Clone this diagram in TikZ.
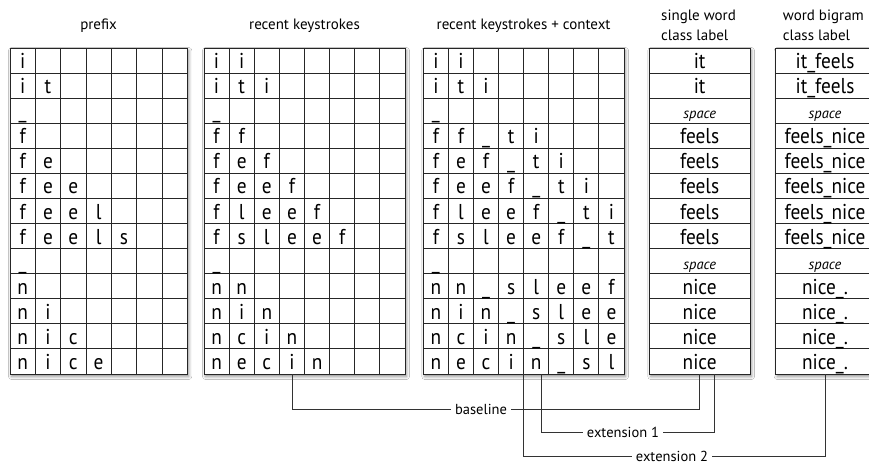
\documentclass[tikz,border=0pt]{standalone}
\usepackage{fontspec}
\setmainfont{PT Sans}
\newfontfamily\cellfont[FakeStretch=0.9]{PT Sans}
\usetikzlibrary{shadows.blur}

\def\ytop{48}
\def\rowh{25.077}
\newcommand{\spc}{{\fontsize{14.5}{16}\selectfont\normalfont\itshape space}}

\tikzset{
  tbl/.style={draw=black!85, line width=0.9pt, fill=white, rectangle, inner sep=0pt, outer sep=0pt,
    blur shadow={shadow xshift=1.5pt, shadow yshift=-2.5pt, shadow blur radius=3pt, shadow opacity=45}},
  gridline/.style={draw=black!85, line width=0.9pt},
  cell/.style={anchor=base, inner sep=0pt, font=\cellfont\fontsize{21.5}{24}\selectfont},
  hdr/.style={inner sep=0pt, font=\fontsize{15}{18}\selectfont},
  lbl/.style={inner sep=4pt, font=\fontsize{14.5}{17}\selectfont},
  conn/.style={draw=black!80, line width=0.8pt},
}

% #1 name, #2 x0, #3 ncols, #4 col width, #5 rows
\newcommand{\chargrid}[5]{%
  \node[tbl, minimum width={#3*#4*1pt}, minimum height={13*\rowh*1pt}, anchor=north west] (#1) at (#2,\ytop) {};
  \foreach \k in {1,...,12} \draw[gridline] (#2,{\ytop+\k*\rowh}) -- ++(#3*#4,0);
  \pgfmathtruncatemacro{\ncm}{#3-1}
  \foreach \k in {1,...,\ncm} \draw[gridline] ({#2+\k*#4},\ytop) -- ++(0,13*\rowh);
  \foreach \rowdata [count=\r] in {#5} {
    \foreach \ch [count=\c] in \rowdata {
      \node[cell] (#1-\r-\c) at ({#2+(\c-0.5)*#4},{\ytop+\r*\rowh-4.5}) {\ch};
    }
  }
}

% #1 name, #2 x0, #3 width, #4 words
\newcommand{\wordcol}[4]{%
  \node[tbl, minimum width={#3*1pt}, minimum height={13*\rowh*1pt}, anchor=north west] (#1) at (#2,\ytop) {};
  \foreach \k in {1,...,12} \draw[gridline] (#2,{\ytop+\k*\rowh}) -- ++(#3,0);
  \foreach \w [count=\r] in {#4} {
    \node[cell] (#1-\r) at ({#2+#3/2},{\ytop+\r*\rowh-4.5}) {\w};
  }
}

\begin{document}
\begin{tikzpicture}[x=1pt,y=-1pt]
\useasboundingbox (0,0) rectangle (869,464);
\fill[white] (0,0) rectangle (869,464);

% headers
\node[hdr, anchor=base] (h1) at (98.6,29.5) {prefix};
\node[hdr, anchor=base] (h2) at (304.5,29.5) {recent keystrokes};
\node[hdr, anchor=base] (h3) at (523.6,29.5) {recent keystrokes + context};
\node[hdr, anchor=base west] (h4a) at (661,20) {single word};
\node[hdr, anchor=base west] (h4b) at (661,40.5) {class label};
\node[hdr, anchor=base west] (h5a) at (782.7,20) {word bigram};
\node[hdr, anchor=base west] (h5b) at (782.7,40.5) {class label};

\chargrid{g1}{10}{7}{25.33}{{i},{i,t},{\_},{f},{f,e},{f,e,e},{f,e,e,l},{f,e,e,l,s},{\_},{n},{n,i},{n,i,c},{n,i,c,e}}
\chargrid{g2}{204}{8}{25.125}{{i,i},{i,t,i},{\_},{f,f},{f,e,f},{f,e,e,f},{f,l,e,e,f},{f,s,l,e,e,f},{\_},{n,n},{n,i,n},{n,c,i,n},{n,e,c,i,n}}
\chargrid{g3}{423.3}{8}{25.09}{{i,i},{i,t,i},{\_},{f,f,\_,t,i},{f,e,f,\_,t,i},{f,e,e,f,\_,t,i},{f,l,e,e,f,\_,t,i},{f,s,l,e,e,f,\_,t},{\_},{n,n,\_,s,l,e,e,f},{n,i,n,\_,s,l,e,e},{n,c,i,n,\_,s,l,e},{n,e,c,i,n,\_,s,l}}
\wordcol{w1}{649.3}{100.7}{it,it,\spc,feels,feels,feels,feels,feels,\spc,nice,nice,nice,nice}
\wordcol{w2}{775.7}{98.6}{it\_feels,it\_feels,\spc,feels\_nice,feels\_nice,feels\_nice,feels\_nice,feels\_nice,\spc,nice\_.,nice\_.,nice\_.,nice\_.}

% connector labels
\node[lbl] (lb) at (481,409.3) {baseline};
\node[lbl] (le1) at (623,432.7) {extension 1};
\node[lbl] (le2) at (672,456.3) {extension 2};

\coordinate (b0) at (g2-13-4 |- g2.south);
\coordinate (e1c) at (g3-13-5 |- g3.south);
\coordinate (e1a) at ([xshift=5.5pt]e1c);
\coordinate (e2a) at ([xshift=-12.5pt]e1c);
\coordinate (e1b) at ([xshift=15pt]w1.south);

\draw[conn] (b0) |- (lb.west);
\draw[conn] (lb.east) -| (w1.south);
\draw[conn] (e1a) |- (le1.west);
\draw[conn] (le1.east) -| (e1b);
\draw[conn] (e2a) |- (le2.west);
\draw[conn] (le2.east) -| (w2.south);
\end{tikzpicture}
\end{document}
